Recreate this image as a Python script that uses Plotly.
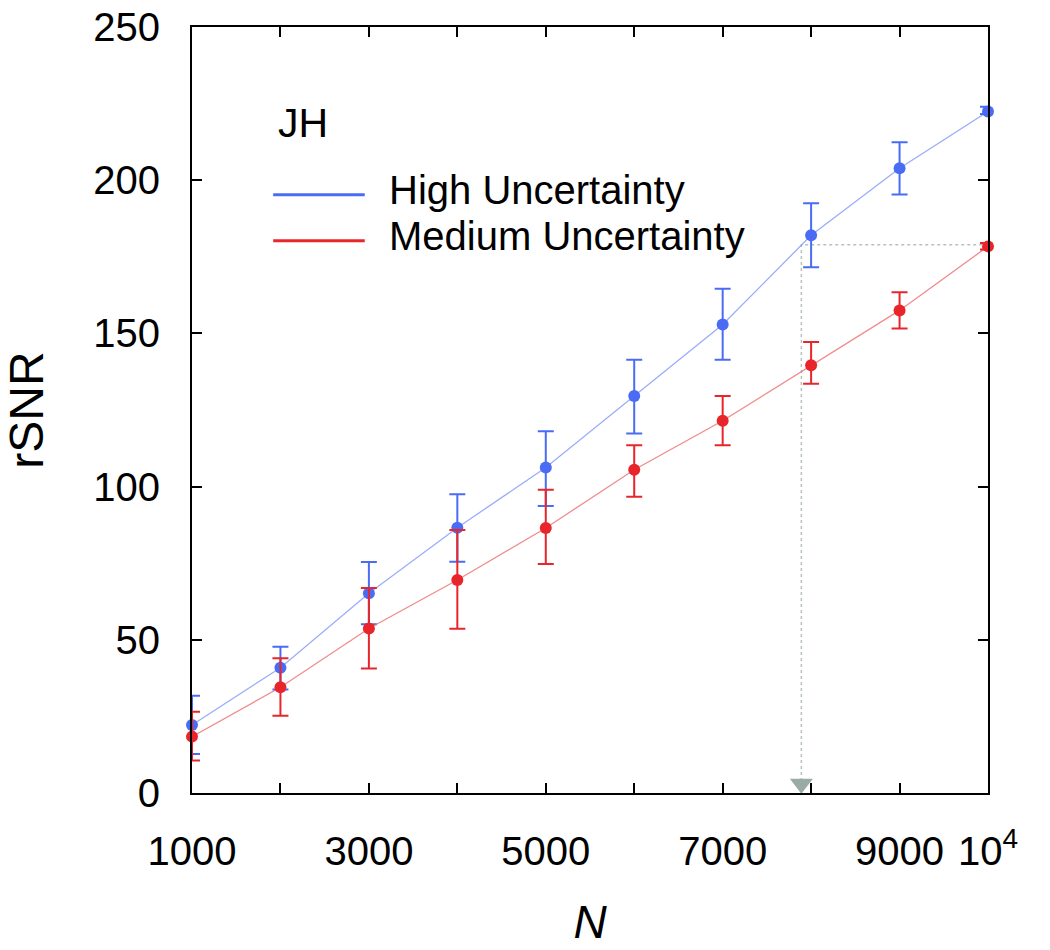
import plotly.graph_objects as go

# Data
n_values = [1000, 2000, 3000, 4000, 5000, 6000, 7000, 8000, 9000, 10000]

high_mean = [22.2, 40.9, 65.2, 86.6, 106.2, 129.6, 152.9, 182.0, 203.9, 222.4]
high_upper = [31.7, 47.7, 75.4, 97.5, 118.1, 141.4, 164.6, 192.5, 212.4, 224.0]
high_lower = [12.7, 33.8, 55.1, 75.5, 93.7, 117.3, 141.4, 171.6, 195.3, 221.6]

medium_mean = [18.4, 34.5, 53.7, 69.5, 86.5, 105.5, 121.5, 139.6, 157.5, 178.4]
medium_upper = [26.5, 44.0, 66.9, 85.8, 99.0, 113.5, 129.6, 147.2, 163.4, 179.5]
medium_lower = [10.6, 25.2, 40.6, 53.6, 74.7, 96.7, 113.5, 133.6, 151.6, 177.4]

# guide: where the high-uncertainty curve reaches the medium value at N=10^4
target_snr = 178.9
n_cross = 7890

x_tickvals = [1000, 3000, 5000, 7000, 9000, 10000]
x_ticktext = ["1000", "3000", "5000", "7000", "9000", "10<sup>4</sup>"]
y_tickvals = [0, 50, 100, 150, 200, 250]

FONT = "Liberation Sans, Arial, Helvetica, sans-serif"
BLUE = "#4a6cf5"
BLUE_LINE = "rgba(120,145,250,0.75)"
RED = "#e8252b"
RED_LINE = "rgba(238,110,110,0.8)"
GUIDE = "#b7c2bf"

fig = go.Figure()

# dotted guide lines
fig.add_trace(go.Scatter(
    x=[n_cross, n_cross, n_values[-1]],
    y=[0, target_snr, target_snr],
    mode="lines",
    line=dict(color=GUIDE, width=1.5, dash="dot"),
    hoverinfo="skip",
    showlegend=False,
))
fig.add_trace(go.Scatter(
    x=[n_cross], y=[3.0],
    mode="markers",
    marker=dict(symbol="triangle-down", size=20, color="#9aaba6"),
    cliponaxis=False,
    showlegend=False,
))


def add_series(mean, upper, lower, color, line_color, name):
    plus = [u - m for u, m in zip(upper, mean)]
    minus = [m - l for m, l in zip(mean, lower)]
    fig.add_trace(go.Scatter(
        x=n_values, y=mean,
        mode="lines",
        line=dict(color=line_color, width=1.3),
        showlegend=False,
        hoverinfo="skip",
    ))
    fig.add_trace(go.Scatter(
        x=n_values, y=mean,
        mode="markers",
        name=name,
        marker=dict(color=color, size=12),
        error_y=dict(type="data", array=plus, arrayminus=minus,
                     color=color, thickness=2, width=8),
        cliponaxis=False,
        showlegend=False,
    ))


add_series(high_mean, high_upper, high_lower, BLUE, BLUE_LINE, "High Uncertainty")
add_series(medium_mean, medium_upper, medium_lower, RED, RED_LINE, "Medium Uncertainty")

# hand-drawn legend like the original
legend_items = [("High Uncertainty", BLUE, 0.781), ("Medium Uncertainty", RED, 0.721)]
for label, color, ypos in legend_items:
    fig.add_shape(type="line", xref="paper", yref="paper",
                  x0=0.102, x1=0.217, y0=ypos, y1=ypos,
                  line=dict(color=color, width=3))
    fig.add_annotation(x=0.245, y=ypos + 0.006, xref="paper", yref="paper",
                       text=label, showarrow=False, xanchor="left", yanchor="middle",
                       font=dict(size=40, color="black", family=FONT))
fig.add_annotation(x=0.105, y=0.875, xref="paper", yref="paper",
                   text="JH", showarrow=False, xanchor="left", yanchor="middle",
                   font=dict(size=41, color="black", family=FONT))

fig.update_layout(
    width=1050, height=950,
    margin=dict(l=192, r=62, t=27, b=157, autoexpand=False),
    paper_bgcolor="white",
    plot_bgcolor="white",
    font=dict(family=FONT, size=40, color="black"),
    showlegend=False,
)

fig.update_xaxes(
    range=[1000, 10000],
    tickvals=x_tickvals, ticktext=x_ticktext,
    ticks="inside", ticklen=10, tickwidth=2, tickcolor="black",
    minor=dict(tick0=0, dtick=1000, ticks="inside", ticklen=10,
               tickwidth=2, tickcolor="black", showgrid=False),
    showline=True, linecolor="black", linewidth=2, mirror="ticks",
    showgrid=False, zeroline=False, automargin=False,
    ticklabelstandoff=22,
    ticklabeloverflow="allow",
    tickfont=dict(size=40, family=FONT),
    title=dict(text="<i>N</i>", font=dict(size=46, family=FONT), standoff=34),
)
fig.update_yaxes(
    range=[0, 250],
    tickvals=y_tickvals,
    ticks="inside", ticklen=10, tickwidth=2, tickcolor="black",
    showline=True, linecolor="black", linewidth=2, mirror="ticks",
    showgrid=False, zeroline=False, automargin=False,
    ticklabelstandoff=22,
    ticklabeloverflow="allow",
    tickfont=dict(size=40, family=FONT),
    title=dict(text="rSNR", font=dict(size=48, family=FONT), standoff=46),
)

# drop the default page margin so the figure sits at the window's corner
fig.write_html("out.html", config={"displayModeBar": False},
               post_script="document.body.style.margin='0';")
